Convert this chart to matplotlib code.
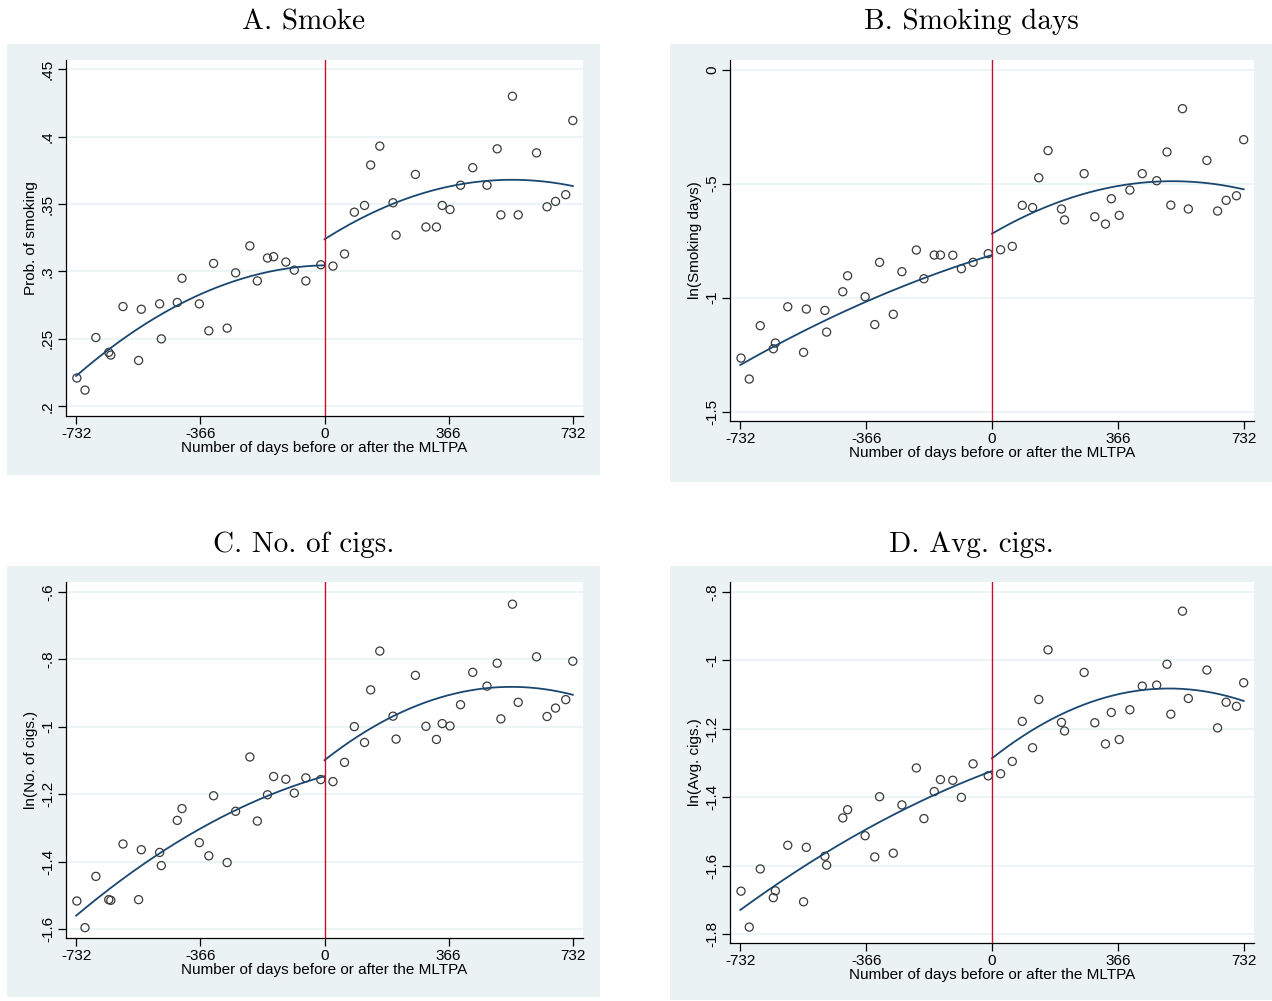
import numpy as np
import matplotlib
matplotlib.use("Agg")
from matplotlib import pyplot as plt
from matplotlib.patches import Rectangle

# days relative to the MLTPA (bin centres, same for every panel)
days = [-730, -706, -674, -636, -630, -594, -548, -540, -486, -481,
        -434, -420, -369, -341, -327, -287, -262, -220, -198, -168,
        -150, -114, -89, -55, -11,
        25, 59, 88, 118, 136, 163, 202, 211, 268, 299,
        330, 347, 370, 401, 437, 479, 509, 520, 554, 571,
        625, 656, 681, 711, 732]

smoke = [0.221, 0.212, 0.251, 0.240, 0.238, 0.274, 0.234, 0.272, 0.276, 0.250,
         0.277, 0.295, 0.276, 0.256, 0.306, 0.258, 0.299, 0.319, 0.293, 0.310,
         0.311, 0.307, 0.301, 0.293, 0.305,
         0.304, 0.313, 0.344, 0.349, 0.379, 0.393, 0.351, 0.327, 0.372, 0.333,
         0.333, 0.349, 0.346, 0.364, 0.377, 0.364, 0.391, 0.342, 0.430, 0.342,
         0.388, 0.348, 0.352, 0.357, 0.412]

smoking_days = [-1.265, -1.357, -1.123, -1.224, -1.199, -1.040, -1.240, -1.050, -1.056, -1.151,
                -0.974, -0.904, -0.996, -1.118, -0.845, -1.073, -0.886, -0.791, -0.917, -0.813,
                -0.813, -0.814, -0.873, -0.845, -0.807,
                -0.790, -0.775, -0.595, -0.605, -0.474, -0.355, -0.611, -0.659, -0.456, -0.645,
                -0.677, -0.566, -0.639, -0.528, -0.456, -0.487, -0.361, -0.594, -0.171, -0.611,
                -0.398, -0.620, -0.573, -0.553, -0.307]

n_cigs = [-1.517, -1.596, -1.444, -1.513, -1.515, -1.348, -1.513, -1.365, -1.373, -1.412,
          -1.278, -1.243, -1.344, -1.383, -1.205, -1.403, -1.251, -1.090, -1.280, -1.202,
          -1.148, -1.156, -1.197, -1.152, -1.157,
          -1.163, -1.106, -1.000, -1.047, -0.891, -0.776, -0.969, -1.037, -0.848, -0.999,
          -1.038, -0.991, -0.998, -0.935, -0.839, -0.880, -0.812, -0.977, -0.637, -0.928,
          -0.793, -0.970, -0.945, -0.920, -0.806]

avg_cigs = [-1.674, -1.779, -1.609, -1.693, -1.673, -1.540, -1.705, -1.546, -1.572, -1.598,
            -1.460, -1.436, -1.512, -1.574, -1.398, -1.563, -1.422, -1.314, -1.462, -1.383,
            -1.348, -1.350, -1.400, -1.302, -1.337,
            -1.331, -1.295, -1.178, -1.255, -1.114, -0.969, -1.181, -1.206, -1.035, -1.182,
            -1.244, -1.152, -1.231, -1.144, -1.075, -1.072, -1.011, -1.157, -0.856, -1.111,
            -1.028, -1.197, -1.122, -1.134, -1.065]

# quadratic fit lines (values read at start / middle / end of each side)
fit_x_pre = [-732, -366, 0]
fit_x_post = [0, 366, 732]
fit_pre = [[0.2225, 0.2831, 0.3046],
           [-1.2953, -1.0175, -0.8129],
           [-1.5604, -1.3023, -1.1470],
           [-1.7289, -1.4933, -1.3229]]
fit_post = [[0.3239, 0.3630, 0.3634],
            [-0.7193, -0.5102, -0.5249],
            [-1.0995, -0.9066, -0.9056],
            [-1.2859, -1.0989, -1.1184]]

titles = ["A. Smoke", "B. Smoking days", "C. No. of cigs.", "D. Avg. cigs."]
ylabels = ["Prob. of smoking", "ln(Smoking days)", "ln(No. of cigs.)", "ln(Avg. cigs.)"]
series = [smoke, smoking_days, n_cigs, avg_cigs]
yticks = [[0.2, 0.25, 0.3, 0.35, 0.4, 0.45],
          [-1.5, -1.0, -0.5, 0.0],
          [-1.6, -1.4, -1.2, -1.0, -0.8, -0.6],
          [-1.8, -1.6, -1.4, -1.2, -1.0, -0.8]]
yticklabels = [[".2", ".25", ".3", ".35", ".4", ".45"],
               ["-1.5", "-1", "-.5", "0"],
               ["-1.6", "-1.4", "-1.2", "-1", "-.8", "-.6"],
               ["-1.8", "-1.6", "-1.4", "-1.2", "-1", "-.8"]]
xticks = [-732, -366, 0, 366, 732]

W, H = 1272, 1001
BG = "#eaf2f3"
NAVY = "#1a476f"
RED = "#c8102e"

# layout in pixels: plot box (l, r, t, b), background box (l, r, t, b), ylim
boxes = [(66, 583, 60, 416), (730, 1254, 60, 421),
         (66, 583, 582, 938), (730, 1254, 582, 943)]
bgs = [(7, 600, 44, 475), (670, 1272, 44, 482),
       (7, 600, 566, 997), (670, 1272, 566, 1000)]
ylims = [(0.1928, 0.4569), (-1.541, 0.0425),
         (-1.6267, -0.5712), (-1.8254, -0.7708)]
title_y = [22, 22, 545, 545]

plt.rcParams["font.family"] = ["Liberation Sans", "DejaVu Sans"]

fig = plt.figure(figsize=(W / 100, H / 100), dpi=100)
fig.patch.set_facecolor("white")

x = np.array(days)

for i in range(4):
    bl, br, bt, bb = bgs[i]
    fig.patches.append(Rectangle((bl / W, 1 - bb / H), (br - bl) / W, (bb - bt) / H,
                                 transform=fig.transFigure, facecolor=BG,
                                 edgecolor="none", zorder=-10))
    fig.text((bl + br) / 2 / W, 1 - title_y[i] / H, titles[i], ha="center", va="center",
             fontsize=21, family="cmr10")

    l, r, t, b = boxes[i]
    ax = fig.add_axes([l / W, 1 - b / H, (r - l) / W, (b - t) / H])
    ax.set_facecolor("white")
    y = np.array(series[i])

    ax.scatter(x, y, s=34, facecolors="none", edgecolors="#3a3a3a", linewidths=0.9, zorder=3)

    # qfit on each side of the cutoff
    for fx, fy in [(fit_x_pre, fit_pre[i]), (fit_x_post, fit_post[i])]:
        c = np.polyfit(fx, fy, 2)
        xx = np.linspace(fx[0], fx[-1], 200)
        ax.plot(xx, np.polyval(c, xx), color=NAVY, lw=1.3, zorder=4)

    ax.axvline(0, color=RED, lw=1.0, zorder=5)

    ax.set_xlim(-762, 762)
    ax.set_ylim(*ylims[i])
    ax.set_xticks(xticks)
    ax.set_xticklabels([str(v) for v in xticks])
    ax.set_yticks(yticks[i])
    ax.set_yticklabels(yticklabels[i], rotation=90, va="center")
    ax.grid(axis="y", color=BG, lw=1.2)
    ax.set_axisbelow(True)
    for s in ["top", "right"]:
        ax.spines[s].set_visible(False)
    for s in ["left", "bottom"]:
        ax.spines[s].set_color("black")
        ax.spines[s].set_linewidth(0.9)
    ax.tick_params(length=6, width=0.9, labelsize=11, pad=2)
    ax.set_xlabel("Number of days before or after the MLTPA", fontsize=11, labelpad=0)
    ax.set_ylabel(ylabels[i], fontsize=11, labelpad=2)

fig.savefig("out.png", dpi=100, facecolor="white")
